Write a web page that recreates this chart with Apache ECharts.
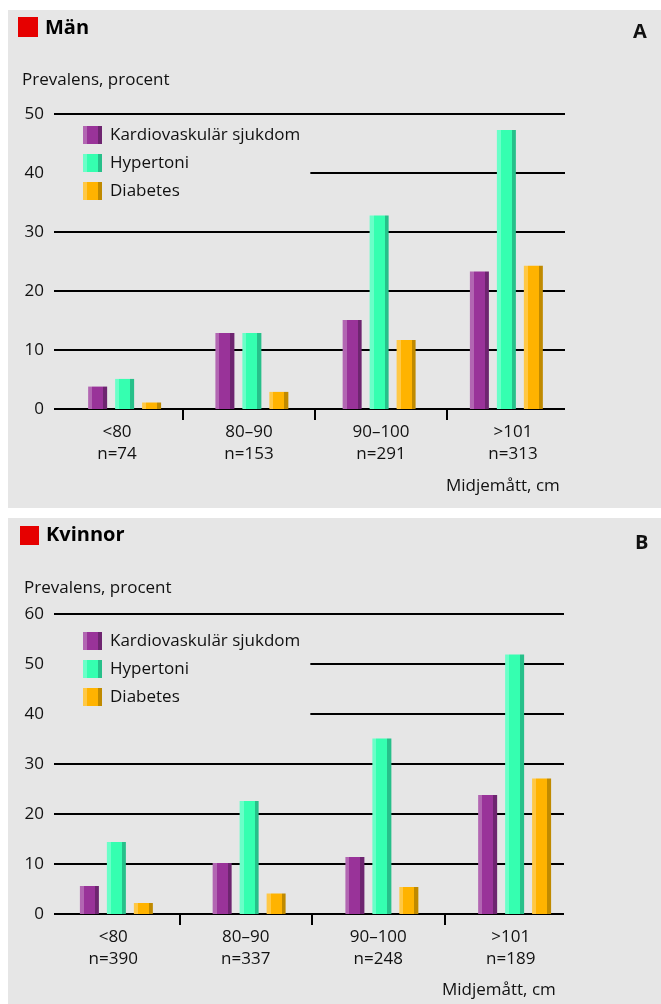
<!DOCTYPE html>
<html>
<head>
<meta charset="utf-8">
<script src="https://cdn.jsdelivr.net/npm/echarts@6/dist/echarts.min.js"></script>
<style>
  html, body { margin: 0; padding: 0; background: #fff; }
  #chart { width: 661px; height: 1004px; }
</style>
</head>
<body>
<div id="chart"></div>
<script>
    const sizeLabels = ['<80', '80–90', '90–100', '>101'];
    const menCounts = [74, 153, 291, 313];
    const womenCounts = [390, 337, 248, 189];
    const seriesNames = ['Kardiovaskulär sjukdom', 'Hypertoni', 'Diabetes'];

    const menCvd = [3.8, 12.9, 15.1, 23.3];
    const menHyp = [5.1, 12.9, 32.8, 47.3];
    const menDiab = [1.1, 2.9, 11.7, 24.3];

    const womenCvd = [5.6, 10.2, 11.4, 23.8];
    const womenHyp = [14.4, 22.6, 35.1, 51.9];
    const womenDiab = [2.2, 4.1, 5.4, 27.1];

    const menAxis = { min: 0, max: 50, interval: 10 };
    const womenAxis = { min: 0, max: 60, interval: 10 };

    const FONT = '"Open Sans", "Noto Sans", sans-serif';
    const INK = '#111';
    const FS = 17;

    // light strip / main face / dark strip, like the little 3d bars
    const shades = [
        ['#b266b2', '#993399', '#6e2570'],
        ['#6affc8', '#35ffb0', '#27c08a'],
        ['#ffc845', '#ffb300', '#c08a00']
    ];
    function barColor(s) {
        return {
            type: 'linear', x: 0, y: 0, x2: 1, y2: 0,
            colorStops: [
                { offset: 0, color: s[0] }, { offset: 0.21, color: s[0] },
                { offset: 0.21, color: s[1] }, { offset: 0.79, color: s[1] },
                { offset: 0.79, color: s[2] }, { offset: 1, color: s[2] }
            ]
        };
    }

    const menLabels = sizeLabels.map((s, i) => s + '\nn=' + menCounts[i]);
    const womenLabels = sizeLabels.map((s, i) => s + '\nn=' + womenCounts[i]);

    const gridLine = { color: '#000', width: 2 };

    function panelAxes(g, labels, range) {
        let x = [
            { gridIndex: g, type: 'category', data: sizeLabels, show: false },
            { gridIndex: g + 1, type: 'category', data: sizeLabels, show: false },
            {
                gridIndex: g + 2, type: 'category', data: labels,
                axisLine: { show: false }, axisTick: { show: false },
                axisLabel: { fontSize: FS, lineHeight: 22, margin: 1, color: INK, fontFamily: FONT },
                splitLine: { show: true, showMinLine: false, showMaxLine: false, lineStyle: gridLine }
            }
        ];
        let y = [
            {
                gridIndex: g, type: 'value', min: range.min, max: range.max, interval: range.interval,
                axisLine: { show: false }, axisTick: { show: false },
                axisLabel: { fontSize: FS, margin: 10, color: INK, fontFamily: FONT },
                splitLine: { lineStyle: gridLine }
            },
            { gridIndex: g + 1, type: 'value', min: range.min, max: range.max, show: false },
            { gridIndex: g + 2, type: 'value', min: 0, max: 1, show: false }
        ];
        return { x: x, y: y };
    }

    function panelSeries(axisIndex, values) {
        return values.map((vals, i) => ({
            name: seriesNames[i],
            type: 'bar',
            xAxisIndex: axisIndex,
            yAxisIndex: axisIndex,
            data: vals,
            barWidth: 19,
            barGap: '42%',
            itemStyle: { color: barColor(shades[i]) }
        }));
    }

    const menPanel = panelAxes(0, menLabels, menAxis);
    const womenPanel = panelAxes(3, womenLabels, womenAxis);

    function legendAt(t) {
        return {
            data: seriesNames, orient: 'vertical', left: 50, top: t,
            icon: 'rect', itemWidth: 19, itemHeight: 18, itemGap: 10,
            padding: [4, 10, 12, 33],
            backgroundColor: '#e6e6e6',
            selectedMode: false,
            textStyle: { fontSize: FS, color: INK, fontFamily: FONT, padding: [0, 0, 0, 3] }
        };
    }

    function txt(x, y, text, font) {
        return {
            type: 'text', x: x, y: y, z: 5,
            style: { text: text, fill: INK, font: font, verticalAlign: 'middle' }
        };
    }

    const option = {
        animation: false,
        backgroundColor: '#fff',
        textStyle: { fontFamily: FONT },
        title: [
            { text: 'Män', left: 45, top: 18, padding: 0,
              textStyle: { fontSize: 20, fontWeight: 'bold', color: '#000', fontFamily: FONT } },
            { text: 'Kvinnor', left: 46, top: 525, padding: 0,
              textStyle: { fontSize: 20, fontWeight: 'bold', color: '#000', fontFamily: FONT } }
        ],
        legend: [legendAt(122), legendAt(628)],
        grid: [
            { left: 54, top: 114, width: 511, height: 295 },
            { left: 61, top: 114, width: 509, height: 295 },
            { left: 51, top: 409, width: 528, height: 11 },
            { left: 54, top: 614, width: 510, height: 300 },
            { left: 50, top: 614, width: 531, height: 300 },
            { left: 47, top: 914, width: 530, height: 11 }
        ],
        xAxis: menPanel.x.concat(womenPanel.x),
        yAxis: menPanel.y.concat(womenPanel.y),
        series: panelSeries(1, [menCvd, menHyp, menDiab])
            .concat(panelSeries(4, [womenCvd, womenHyp, womenDiab])),
        graphic: [
            { type: 'rect', z: -10, shape: { x: 8, y: 10, width: 653, height: 498 }, style: { fill: '#e6e6e6' } },
            { type: 'rect', z: -10, shape: { x: 8, y: 518, width: 653, height: 486 }, style: { fill: '#e6e6e6' } },
            { type: 'rect', z: 5, shape: { x: 18, y: 17, width: 20, height: 20 }, style: { fill: '#e60000' } },
            { type: 'rect', z: 5, shape: { x: 20, y: 526, width: 19, height: 19 }, style: { fill: '#e60000' } },
            txt(633, 32, 'A', 'bold 20px ' + FONT),
            txt(635, 543, 'B', 'bold 20px ' + FONT),
            txt(22, 80, 'Prevalens, procent', FS + 'px ' + FONT),
            txt(24, 588, 'Prevalens, procent', FS + 'px ' + FONT),
            txt(446, 486, 'Midjemått, cm', FS + 'px ' + FONT),
            txt(442, 990, 'Midjemått, cm', FS + 'px ' + FONT)
        ]
    };

    const myChart = echarts.init(document.getElementById('chart'));
    myChart.setOption(option);
</script>
</body>
</html>
